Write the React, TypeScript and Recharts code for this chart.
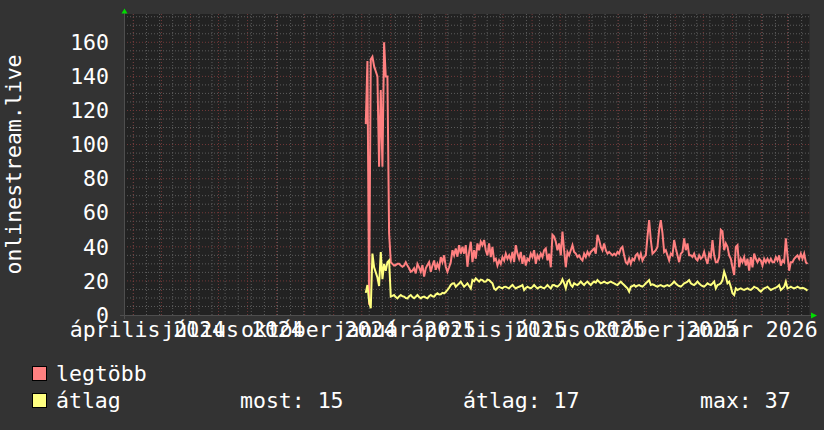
import React from 'react';
import { LineChart, Line, XAxis, YAxis, CartesianGrid, ReferenceLine } from 'recharts';

// ---- time axis: days since 2024-03-22 (left edge of the 2-year window) ----
const WINDOW_DAYS = 732.4;
const DATA_START_DAY = 258.3;
const SAMPLE_STEP_DAYS = 1.781;

const monthStartDays = [10, 40, 71, 101, 132, 163, 193, 224, 254, 285, 316, 344, 375, 405, 436, 466, 497, 528, 558, 589, 619, 650, 681, 709];
const biweeklyStartDay = 10;
const xLabelDays = [25, 116, 208, 300, 390, 481, 573, 665];
const xLabels = ['április 2024', 'július 2024', 'október 2024', 'január 2025', 'április 2025', 'július 2025', 'október 2025', 'január 2026'];

const yTicks = [0, 20, 40, 60, 80, 100, 120, 140, 160];
const Y_MAX = 176.6;

const seriesNames = ['legtöbb', 'átlag'];
const seriesColors = ['#ff8080', '#ffff80'];
const legendStats = ['most: 15', 'átlag: 17', 'max: 37'];

// legtöbb (max)
const legtobb = [
  112, 149, 6, 150, 151.5, 146, 143, 140, 87, 132, 87, 160, 140, 140, 48,
  31, 30, 29, 29.3, 30, 30, 29, 28.3, 29, 31, 29, 27.4, 25.4, 26, 27.4, 24.4, 30, 28, 25.4, 29.3,
  22.5, 27.4, 29.3, 31, 25.4, 29, 32, 26.5, 30, 27.4, 34, 31, 35, 28.3, 25.4, 28, 31, 38, 35, 39,
  34.2, 41, 36, 40, 36, 41, 28.3, 37, 43,
  31, 38, 33, 42, 38, 43, 41, 44, 38, 35, 42, 34, 40, 32, 33, 29, 32, 30, 34, 32,
  36, 33, 35, 32, 37, 31, 41, 36, 33, 37, 30, 35, 29, 33, 32, 36, 34, 38, 30, 35,
  33, 36, 34, 38, 39, 32, 36, 28, 47,
  46, 43, 38, 42, 35, 49, 38, 28, 37, 35, 38, 41, 37, 36, 34, 35, 33, 32, 36, 34,
  37, 35, 37, 38, 39, 36, 47, 44, 40, 38, 42, 38, 36, 37, 36, 35, 36, 35, 37, 36,
  39, 40, 35, 31, 30, 33, 30, 33, 32,
  35, 36, 33, 36, 32, 34, 35, 46, 55.7, 44, 36, 37, 38, 40, 50, 55.7, 48, 37, 38, 35,
  32, 36, 35, 44, 39, 35, 31, 36, 37, 45, 38, 42, 35, 35, 34, 36, 33, 32, 35, 33,
  34, 37, 33, 30, 36, 34, 44, 35, 31,
  31, 34, 50, 49, 38, 42, 40, 35, 33, 28, 23.5, 40, 41, 28, 33, 31, 34, 29, 33, 26,
  34, 28, 36, 33, 31, 33, 32, 29, 33, 31, 33, 31, 33, 31, 31, 34, 32, 35, 29, 32,
  31, 45, 35, 26, 31, 31, 33, 34, 35, 33, 36, 33, 36, 31, 30,
];

// átlag (average)
const atlag = [
  13, 17.6, 8, 4, 36, 28, 25, 22, 17, 37, 21, 30, 26, 31, 32,
  10.8, 11.2, 11.7, 10.5, 9.8, 10.9, 11.7, 11, 10.8, 10, 9.8, 11, 11.7, 10.5, 9.8, 10.7, 11.7, 10.6, 9.8, 10.5,
  10.8, 10.2, 9.8, 11, 11.7, 11, 10.8, 12, 12.7, 12, 12.2, 13, 12.7, 13.5, 14.7, 16, 17.6, 18.5, 18.6, 16.6,
  17.6, 18.5, 19.6, 18, 16.6, 17.5, 18.6, 17, 15.6,
  20.5, 19.8, 21.5, 20.5, 19.6, 20.8, 20.5, 19.5, 19.6, 20.8, 20.5, 19.5, 18.6, 15.6, 14.7, 15.8, 16.6, 16, 15.6, 16.5,
  16.6, 16, 15.6, 16.8, 17.6, 16.5, 15.6, 16.2, 16.6, 17, 17.6, 14.7, 15.8, 16.6, 16, 15.6, 16.5, 17.6, 16.5, 15.6,
  16.2, 16.6, 16, 15.6, 16.5, 17.6, 16.5, 15.6, 17.5,
  17.6, 17, 16.6, 17.5, 18.6, 20.9, 18.6, 15.6, 19.6, 20.5, 17.6, 16.6, 18.6, 18, 17.6, 18.5, 19.6, 18.5, 17.6, 18.8,
  19.6, 18.5, 17.6, 18.8, 19.6, 19, 20.5, 19.5, 18.6, 19, 19.6, 19, 18.6, 19.2, 19.6, 19, 18.6, 18, 17.6, 18.6,
  19.6, 18.5, 17.6, 16.6, 15.6, 13.7, 16.6, 17, 17.6,
  16.6, 17.2, 17.6, 17, 16.6, 17.5, 18.6, 19.5, 20.5, 17.6, 18, 17.6, 17, 16.6, 17.2, 17.6, 17, 16.6, 17.2, 17.6,
  17, 17.6, 18.5, 19.6, 18.5, 17.6, 17, 16.6, 17.5, 18.6, 19, 19.6, 20.5, 18.6, 18, 17.6, 18.5, 19.6, 18.5, 17.6,
  17, 16.6, 17.5, 18.6, 18, 17.6, 18.5, 19.6, 15.6,
  17.6, 18, 18.6, 20.5, 25.4, 22.5, 18.6, 19.6, 16.6, 12.7, 11.7, 15.6, 14.7, 15.2, 15.6, 15, 14.7, 15.2, 15.6, 15,
  14.7, 15.5, 16.6, 16, 15.6, 14.5, 13.7, 14.8, 15.6, 16, 16.6, 15.5, 14.7, 15.2, 15.6, 16, 16.6, 17.6, 14.7, 15.5,
  16.6, 19.6, 15.6, 16, 16.6, 16, 15.6, 16, 16.6, 16, 15.6, 16, 15.6, 15, 14.3,
];

const toSeries = (values: number[]) =>
  values.map((v, i) => ({ day: DATA_START_DAY + i * SAMPLE_STEP_DAYS, v }));

const maxData = toSeries(legtobb);
const avgData = toSeries(atlag);

// ---- layout / style ----
const W = 824;
const H = 430;
const PLOT_LEFT = 124;
const PLOT_RIGHT = 809.5;
const PLOT_TOP = 14;
const PLOT_BOTTOM = 315;
const Y_AXIS_W = 60;
const X_AXIS_H = 30;
const FONT = '"DejaVu Sans Mono", monospace';
const FS = 21.5;
const BG = '#333333';
const CANVAS = '#222222';
const GRID = '#5c5c5c';
const MGRID = '#723838';
const AXIS = '#4e4e4e';
const ARROW = '#00dd00';

const biweeklyDays: number[] = [];
for (let d = biweeklyStartDay; d <= WINDOW_DAYS; d += 14) biweeklyDays.push(d);
const minorY: number[] = [];
for (let v = 5; v < Y_MAX; v += 5) if (v % 20 !== 0) minorY.push(v);
const majorY = yTicks.filter((v) => v > 0);

const XTick = (props: any) => {
  const { x, payload } = props;
  const idx = xLabelDays.indexOf(payload.value);
  return (
    <text x={x} y={PLOT_BOTTOM + 22} textAnchor="middle" fill="#ffffff" fontFamily={FONT} fontSize={FS}>
      {xLabels[idx]}
    </text>
  );
};

const YTick = (props: any) => {
  const { y, payload } = props;
  return (
    <text x={PLOT_LEFT - 15} y={y} dy="0.36em" textAnchor="end" fill="#ffffff" fontFamily={FONT} fontSize={FS}>
      {payload.value}
    </text>
  );
};

export default function App() {
  return (
    <div style={{ position: 'absolute', left: 0, top: 0, width: W, height: H, background: BG, overflow: 'hidden' }}>
      <LineChart
        width={W}
        height={H}
        margin={{ top: PLOT_TOP, right: W - PLOT_RIGHT, left: PLOT_LEFT - Y_AXIS_W, bottom: H - PLOT_BOTTOM - X_AXIS_H }}
      >
        <CartesianGrid horizontal={false} vertical={false} fill={CANVAS} />
        <XAxis
          type="number"
          dataKey="day"
          domain={[0, WINDOW_DAYS]}
          allowDataOverflow
          ticks={xLabelDays}
          tick={<XTick />}
          tickLine={false}
          axisLine={false}
          height={X_AXIS_H}
          interval={0}
        />
        <YAxis
          type="number"
          domain={[0, Y_MAX]}
          allowDataOverflow
          ticks={yTicks}
          tick={<YTick />}
          tickLine={false}
          axisLine={false}
          width={Y_AXIS_W}
          interval={0}
        />
        {minorY.map((v) => (
          <ReferenceLine key={'hy' + v} y={v} stroke={GRID} strokeDasharray="1 2" />
        ))}
        {biweeklyDays.map((d) => (
          <ReferenceLine key={'vx' + d} x={d} stroke={GRID} strokeDasharray="1 2" />
        ))}
        {majorY.map((v) => (
          <ReferenceLine key={'HY' + v} y={v} stroke={MGRID} strokeDasharray="1 2" />
        ))}
        {monthStartDays.map((d) => (
          <ReferenceLine key={'VX' + d} x={d} stroke={MGRID} strokeDasharray="1 2" />
        ))}
        <Line
          data={maxData}
          dataKey="v"
          name={seriesNames[0]}
          stroke={seriesColors[0]}
          strokeWidth={2}
          dot={false}
          type="linear"
          isAnimationActive={false}
        />
        <Line
          data={avgData}
          dataKey="v"
          name={seriesNames[1]}
          stroke={seriesColors[1]}
          strokeWidth={2}
          dot={false}
          type="linear"
          isAnimationActive={false}
        />
      </LineChart>
      <svg width={W} height={H} style={{ position: 'absolute', left: 0, top: 0, pointerEvents: 'none' }}>
        {/* axes */}
        <line x1={PLOT_LEFT - 4} y1={PLOT_BOTTOM + 0.5} x2={PLOT_RIGHT + 3} y2={PLOT_BOTTOM + 0.5} stroke={AXIS} strokeWidth={1} />
        <line x1={PLOT_LEFT + 0.5} y1={PLOT_BOTTOM + 4} x2={PLOT_LEFT + 0.5} y2={PLOT_TOP - 3} stroke={AXIS} strokeWidth={1} />
        <polygon
          points={`${PLOT_LEFT - 2.5},${PLOT_TOP - 0.5} ${PLOT_LEFT + 3.5},${PLOT_TOP - 0.5} ${PLOT_LEFT + 0.5},${PLOT_TOP - 5.5}`}
          fill={ARROW}
        />
        <polygon
          points={`${PLOT_RIGHT + 1.5},${PLOT_BOTTOM - 2.5} ${PLOT_RIGHT + 1.5},${PLOT_BOTTOM + 3.5} ${PLOT_RIGHT + 7.5},${PLOT_BOTTOM + 0.5}`}
          fill={ARROW}
        />
        {/* y axis title */}
        <text
          x={21}
          y={(PLOT_TOP + PLOT_BOTTOM) / 2}
          transform={`rotate(-90, 21, ${(PLOT_TOP + PLOT_BOTTOM) / 2})`}
          textAnchor="middle"
          fill="#ffffff"
          fontFamily={FONT}
          fontSize={FS}
        >
          onlinestream.live
        </text>
        {/* legend */}
        <rect x={32.5} y={366.5} width={14} height={14} fill={seriesColors[0]} stroke="#000" strokeWidth={1} />
        <text x={56} y={381} fill="#ffffff" fontFamily={FONT} fontSize={FS}>{seriesNames[0]}</text>
        <rect x={32.5} y={393.5} width={14} height={14} fill={seriesColors[1]} stroke="#000" strokeWidth={1} />
        <text x={56} y={408} fill="#ffffff" fontFamily={FONT} fontSize={FS}>{seriesNames[1]}</text>
        <text x={240} y={408} fill="#ffffff" fontFamily={FONT} fontSize={FS}>{legendStats[0]}</text>
        <text x={463} y={408} fill="#ffffff" fontFamily={FONT} fontSize={FS}>{legendStats[1]}</text>
        <text x={700} y={408} fill="#ffffff" fontFamily={FONT} fontSize={FS}>{legendStats[2]}</text>
      </svg>
    </div>
  );
}
